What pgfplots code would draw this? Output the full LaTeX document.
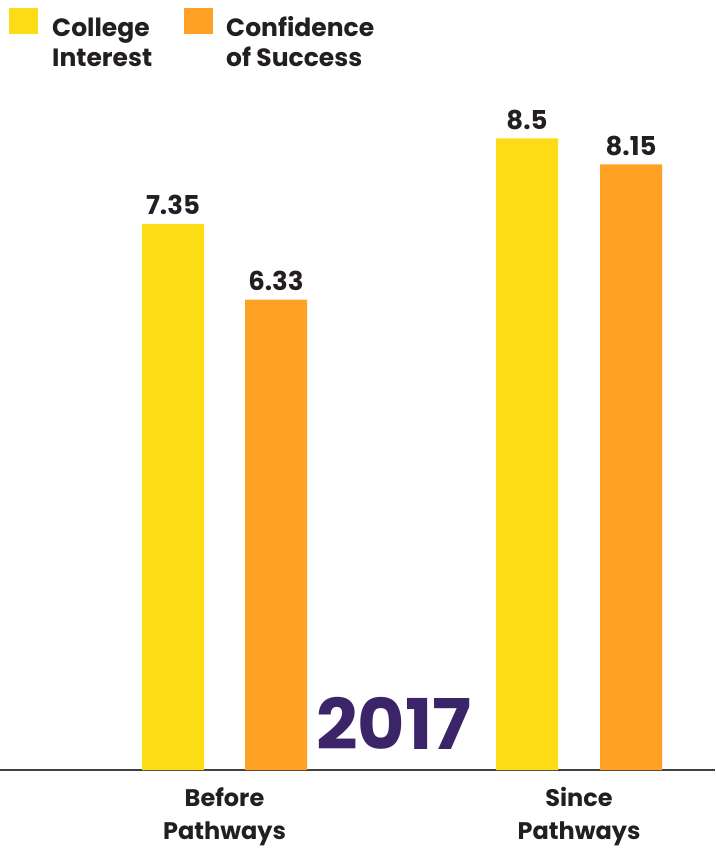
\documentclass[border=0pt]{standalone}
\usepackage{pgfplots}
\pgfplotsset{compat=1.18}
\usepackage{fontspec}
\setmainfont{Poppins}
\definecolor{cyel}{HTML}{FDDC15}
\definecolor{corg}{HTML}{FFA125}
\definecolor{ctxt}{HTML}{231F20}
\definecolor{cpur}{HTML}{3B2468}
\begin{document}
\begin{tikzpicture}[x=1pt,y=1pt]
\path[use as bounding box] (0,-78) rectangle (715,770);
\begin{axis}[
  scale only axis, width=715pt, height=770pt,
  anchor=south west, at={(0,0)},
  xmin=0, xmax=715, ymin=0, ymax=10.363,
  axis x line=bottom, axis y line=none,
  x axis line style={-, draw=ctxt!85, line width=2pt},
  xtick={224.5,579},
  xticklabels={{Before\\Pathways},{Since\\Pathways}},
  major tick length=0pt,
  xticklabel style={align=center, font=\fontsize{24}{33}\selectfont\bfseries, text=ctxt, anchor=base, yshift=-69pt},
  ytick=\empty,
  clip=false,
  point meta=explicit symbolic,
  nodes near coords,
  every node near coord/.append style={anchor=base, yshift=9pt, font=\fontsize{26}{30}\selectfont\bfseries, text=ctxt},
]
\addplot[ybar, bar width=62pt, bar shift=0pt, fill=cyel, draw=none]
  coordinates {(173,7.35) [7.35] (527,8.5) [8.5]};
\addplot[ybar, bar width=62pt, bar shift=0pt, fill=corg, draw=none]
  coordinates {(276,6.33) [6.33] (631,8.15) [8.15]};
\end{axis}
% legend
\fill[cyel] (9,762) rectangle (38,736);
\fill[corg] (184,762) rectangle (213,736);
\begin{scope}[every node/.style={anchor=base west, inner sep=0pt, text=ctxt, font=\fontsize{25}{30}\selectfont\bfseries}]
\node at (52,733) {College};
\node at (52,703) {Interest};
\node at (226,733) {Confidence};
\node at (226,703) {of Success};
\end{scope}
\node[anchor=base, inner sep=0pt, text=cpur, font=\fontsize{70}{80}\selectfont\bfseries] at (394,20) {\scalebox{1.04}[1]{2017}};
\end{tikzpicture}
\end{document}
